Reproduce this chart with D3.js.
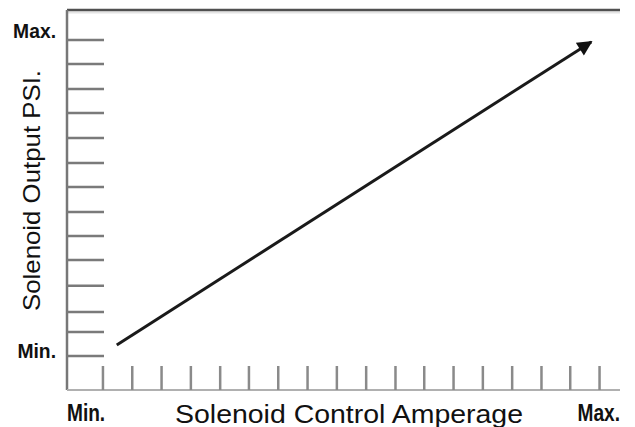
<!DOCTYPE html>
<html><head><meta charset="utf-8">
<script src="https://cdn.jsdelivr.net/npm/d3@7"></script>
<style>html,body{margin:0;padding:0;background:#fff;}svg{display:block;}</style>
</head><body>
<svg id="c" width="635" height="427"></svg>
<script>
// Data
const xTickValues = [6.5, 11.8, 17.1, 22.4, 27.7, 32.9, 38.2, 43.5, 48.8, 54.1, 59.4, 64.6, 69.9, 75.2, 80.5, 85.8, 91.0, 96.3];
const yTickValues = [0, 7.6, 13.9, 22.2, 30.4, 38.0, 45.6, 53.5, 61.1, 69.0, 76.9, 84.5, 92.4, 100];
const lineX = [9.0, 94.8];
const lineY = [3.5, 99.4];
const xLabels = ["Min.", "Max."];
const yLabels = ["Min.", "Max."];
const xTitle = "Solenoid Control Amperage";
const yTitle = "Solenoid Output PSI.";

const svg = d3.select("#c");
const L = 67, R = 620, T = 10, B = 390;
const x = d3.scaleLinear().domain([0, 100]).range([L, R]);
const y = d3.scaleLinear().domain([0, 100]).range([356, 40]);

// frame
svg.append("line").attr("x1", L).attr("x2", R).attr("y1", T + 2.5).attr("y2", T + 2.5)
  .attr("stroke", "#e4e4e4").attr("stroke-width", 2);
svg.append("line").attr("x1", L).attr("x2", R).attr("y1", T).attr("y2", T)
  .attr("stroke", "#505050").attr("stroke-width", 2.5);
svg.append("line").attr("x1", L).attr("x2", L).attr("y1", T).attr("y2", B)
  .attr("stroke", "#777").attr("stroke-width", 2.5);
svg.append("line").attr("x1", L).attr("x2", R).attr("y1", B).attr("y2", B)
  .attr("stroke", "#b0b0b0").attr("stroke-width", 2);

// y ticks
svg.append("g").selectAll("line").data(yTickValues).join("line")
  .attr("x1", L).attr("x2", 104)
  .attr("y1", d => y(d)).attr("y2", d => y(d))
  .attr("stroke", "#7a7a7a").attr("stroke-width", 2.5);

// x ticks
svg.append("g").selectAll("line").data(xTickValues).join("line")
  .attr("x1", d => x(d)).attr("x2", d => x(d))
  .attr("y1", 366).attr("y2", B)
  .attr("stroke", "#8a8a8a").attr("stroke-width", 2.5);

// arrow
svg.append("defs").append("marker").attr("id", "ah")
  .attr("viewBox", "0 0 10 10").attr("refX", 9).attr("refY", 5)
  .attr("markerUnits", "userSpaceOnUse").attr("markerWidth", 17).attr("markerHeight", 15)
  .attr("orient", "auto")
  .append("path").attr("d", "M0,0 L10,5 L0,10 Z").attr("fill", "#111");
svg.append("line")
  .attr("x1", x(lineX[0])).attr("y1", y(lineY[0]))
  .attr("x2", x(lineX[1])).attr("y2", y(lineY[1]))
  .attr("stroke", "#1a1a1a").attr("stroke-width", 3)
  .attr("marker-end", "url(#ah)");

// labels
const F = "'Liberation Sans', Arial, sans-serif";
function boldLabel(txt, px, py, anchor, size, sx) {
  svg.append("text")
    .attr("transform", `translate(${px},${py}) scale(${sx},1)`)
    .attr("text-anchor", anchor)
    .attr("font-family", F).attr("font-weight", "bold").attr("font-size", size).attr("fill", "#111")
    .text(txt);
}
boldLabel(yLabels[1], 56, 38, "end", 21, 0.92);
boldLabel(yLabels[0], 56, 358, "end", 21, 0.92);
boldLabel(xLabels[0], 67, 421, "start", 23, 0.83);
boldLabel(xLabels[1], 620, 421, "end", 23, 0.83);

svg.append("text").attr("x", 175).attr("y", 423)
  .attr("font-family", F).attr("font-size", 25).attr("fill", "#111")
  .attr("textLength", 348).attr("lengthAdjust", "spacingAndGlyphs")
  .text(xTitle);
svg.append("text").attr("transform", "translate(40,311) rotate(-90)")
  .attr("font-family", F).attr("font-size", 24.5).attr("fill", "#111")
  .attr("textLength", 241).attr("lengthAdjust", "spacingAndGlyphs")
  .text(yTitle);
</script>
</body></html>
